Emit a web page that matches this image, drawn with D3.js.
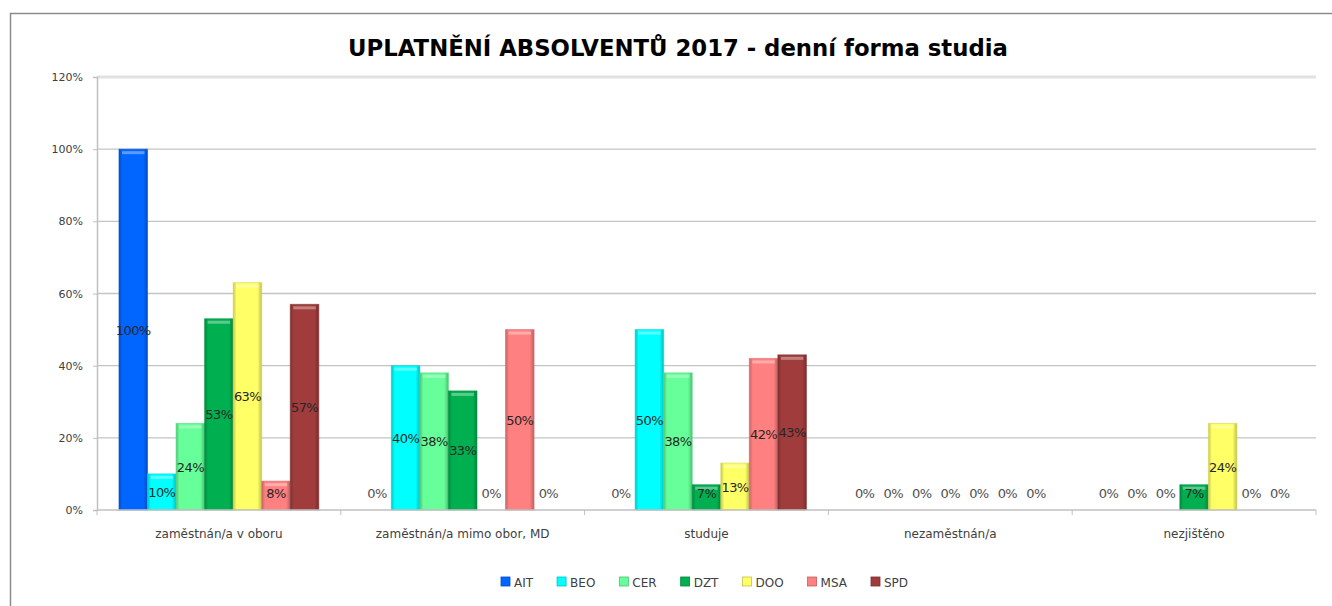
<!DOCTYPE html>
<html>
<head>
<meta charset="utf-8">
<script src="https://cdn.jsdelivr.net/npm/d3@7"></script>
<style>
  body { margin: 0; background: #fff; }
  svg { display: block; }
  text { font-family: "DejaVu Sans", sans-serif; }
</style>
</head>
<body>
<script>
// data
const categories = ["zaměstnán/a v oboru", "zaměstnán/a mimo obor, MD", "studuje", "nezaměstnán/a", "nezjištěno"]
const series = ["AIT", "BEO", "CER", "DZT", "DOO", "MSA", "SPD"]
const colors = ["#0066ff", "#00ffff", "#66ff99", "#00b050", "#ffff66", "#ff8080", "#a03c3c"]
const valuesAIT = [1.00, 0.00, 0.00, 0.00, 0.00]
const valuesBEO = [0.10, 0.40, 0.50, 0.00, 0.00]
const valuesCER = [0.24, 0.38, 0.38, 0.00, 0.00]
const valuesDZT = [0.53, 0.33, 0.07, 0.00, 0.07]
const valuesDOO = [0.63, 0.00, 0.13, 0.00, 0.24]
const valuesMSA = [0.08, 0.50, 0.42, 0.00, 0.00]
const valuesSPD = [0.57, 0.00, 0.43, 0.00, 0.00]
const yTicks = [0, 0.2, 0.4, 0.6, 0.8, 1.0, 1.2]
const title = "UPLATNĚNÍ ABSOLVENTŮ 2017 - denní forma studia"

const allValues = [valuesAIT, valuesBEO, valuesCER, valuesDZT, valuesDOO, valuesMSA, valuesSPD]

const width = 1332, height = 606
const plot = {left: 97, right: 1316, top: 77, bottom: 510}

const svg = d3.select("body").append("svg")
    .attr("width", width)
    .attr("height", height)

// outer chart frame
svg.append("path")
    .attr("d", `M10.5,${height} V13.5 H${width}`)
    .attr("fill", "none")
    .attr("stroke", "#8c8c8c")
    .attr("stroke-width", 1.5)

const y = d3.scaleLinear().domain([0, 1.2]).range([plot.bottom, plot.top])
const x0 = d3.scaleBand().domain(categories).range([plot.left, plot.right])
const x1 = d3.scaleBand().domain(series).range([0, x0.bandwidth()]).paddingOuter(0.77)
const fmt = d3.format(".0%")

// gradients for bar shading
const defs = svg.append("defs")
series.forEach((s, i) => {
    let c = d3.color(colors[i])
    let g = defs.append("linearGradient").attr("id", "g" + s)
        .attr("x1", 0).attr("x2", 1).attr("y1", 0).attr("y2", 0)
    g.append("stop").attr("offset", "0%").attr("stop-color", c.darker(0.7))
    g.append("stop").attr("offset", "12%").attr("stop-color", c)
    g.append("stop").attr("offset", "85%").attr("stop-color", c)
    g.append("stop").attr("offset", "100%").attr("stop-color", c.darker(0.8))
})

// gridlines
svg.append("g").selectAll("line")
    .data(yTicks.filter(d => d > 0))
    .join("line")
    .attr("x1", plot.left).attr("x2", plot.right)
    .attr("y1", d => y(d)).attr("y2", d => y(d))
    .attr("stroke", d => d === 1.2 ? "#e2e2e2" : "#c4c4c4")
    .attr("stroke-width", d => d === 1.2 ? 3 : 1.3)

// y axis
const yAxis = svg.append("g")
    .attr("transform", `translate(${plot.left},0)`)
    .call(d3.axisLeft(y).tickValues(yTicks).tickFormat(fmt).tickSize(4).tickPadding(10))
yAxis.select(".domain").attr("stroke", "#c0c0c0").attr("stroke-width", 1.5)
yAxis.selectAll(".tick line").attr("stroke", "#c0c0c0")
yAxis.selectAll("text").attr("font-size", 11).attr("fill", "#404040")
    .attr("font-family", "Liberation Serif, serif")

// bars
const rows = []
categories.forEach((cat, ci) => {
    series.forEach((s, si) => {
        rows.push({cat: cat, s: s, i: si, v: allValues[si][ci]})
    })
})

const bars = svg.append("g")
bars.selectAll("rect.bar")
    .data(rows.filter(d => d.v > 0))
    .join("rect")
    .attr("class", "bar")
    .attr("x", d => x0(d.cat) + x1(d.s))
    .attr("y", d => y(d.v))
    .attr("width", x1.bandwidth())
    .attr("height", d => y(0) - y(d.v))
    .attr("fill", d => "url(#g" + d.s + ")")
    .attr("stroke", d => d3.color(colors[d.i]).darker(0.5))
    .attr("stroke-opacity", 0.6)
    .attr("stroke-width", 1)

// top highlight
bars.selectAll("rect.hi")
    .data(rows.filter(d => d.v > 0.02))
    .join("rect")
    .attr("class", "hi")
    .attr("x", d => x0(d.cat) + x1(d.s) + 3)
    .attr("y", d => y(d.v) + 2)
    .attr("width", x1.bandwidth() - 6)
    .attr("height", 3)
    .attr("fill", "#fff")
    .attr("opacity", 0.35)

// x axis
const xAxis = svg.append("g")
    .attr("transform", `translate(0,${plot.bottom})`)
xAxis.append("line")
    .attr("x1", plot.left).attr("x2", plot.right)
    .attr("stroke", "#c0c0c0").attr("stroke-width", 1.5)
xAxis.selectAll("line.tk")
    .data(categories.map(c => x0(c)).concat([plot.right]))
    .join("line")
    .attr("class", "tk")
    .attr("x1", d => d).attr("x2", d => d)
    .attr("y1", 0).attr("y2", 5)
    .attr("stroke", "#c0c0c0")
xAxis.selectAll("text")
    .data(categories)
    .join("text")
    .attr("x", d => x0(d) + x0.bandwidth() / 2)
    .attr("y", 28)
    .attr("text-anchor", "middle")
    .attr("font-size", 12)
    .attr("fill", "#404040")
    .text(d => d)

// data labels
svg.append("g").selectAll("text")
    .data(rows)
    .join("text")
    .attr("x", d => x0(d.cat) + x1(d.s) + x1.bandwidth() / 2)
    .attr("y", d => Math.min((y(d.v) + y(0)) / 2, y(0) - 17) + 5)
    .attr("text-anchor", "middle")
    .attr("font-size", 13)
    .attr("letter-spacing", -0.6)
    .attr("fill", d => d.v > 0 ? "#262626" : "#505050")
    .text(d => fmt(d.v))

// title
const t = svg.append("text")
    .attr("x", 678)
    .attr("y", 56)
    .attr("text-anchor", "middle")
    .attr("font-weight", "bold")
    .attr("font-family", "Open Sans, sans-serif")
    .attr("font-size", 24)
    .attr("fill", "#000")
    .text(title)
let tw = t.node().getComputedTextLength()
t.attr("font-size", 24 * 660 / tw)

// legend
const legend = svg.append("g").attr("transform", "translate(0,582)")
let lx = 501
series.forEach((s, i) => {
    let item = legend.append("g").attr("transform", `translate(${lx},0)`)
    item.append("rect")
        .attr("x", 0).attr("y", -5)
        .attr("width", 9).attr("height", 9)
        .attr("fill", colors[i])
        .attr("stroke", d3.color(colors[i]).darker(0.8))
        .attr("stroke-width", 0.8)
    let txt = item.append("text")
        .attr("x", 13).attr("y", 5)
        .attr("font-size", 12)
        .attr("fill", "#404040")
        .text(s)
    lx += 13 + txt.node().getComputedTextLength() + 24
})
</script>
</body>
</html>
